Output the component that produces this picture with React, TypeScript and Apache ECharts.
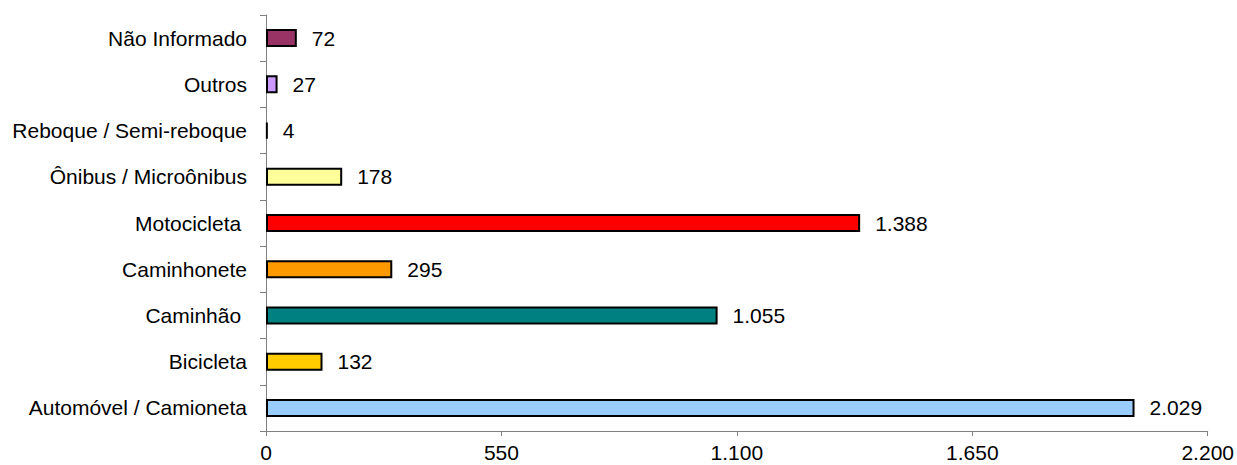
import React, { useEffect, useRef } from "react";
import * as echarts from "echarts";

const categories = [
  "Automóvel / Camioneta",
  "Bicicleta",
  "Caminhão ",
  "Caminhonete",
  "Motocicleta ",
  "Ônibus / Microônibus",
  "Reboque / Semi-reboque",
  "Outros",
  "Não Informado",
];
const values = [2029, 132, 1055, 295, 1388, 178, 4, 27, 72];
const colors = [
  "#99CCFF",
  "#FFCC00",
  "#008080",
  "#FF9900",
  "#FF0000",
  "#FFFF99",
  "#000000",
  "#CC99FF",
  "#993366",
];
const xMin = 0;
const xMax = 2200;
const xInterval = 550;

const fmt = (v: number) =>
  String(Math.round(v)).replace(/\B(?=(\d{3})+(?!\d))/g, ".");

export default function App() {
  const ref = useRef<HTMLDivElement>(null);
  useEffect(() => {
    if (!ref.current) return;
    const chart = echarts.init(ref.current, undefined, { renderer: "svg" });
    const font = "'Liberation Sans', Arial, sans-serif";
    chart.setOption({
      animation: false,
      backgroundColor: "#ffffff",
      grid: { left: 266, right: 28, top: 15, bottom: 34, containLabel: false },
      xAxis: {
        type: "value",
        min: xMin,
        max: xMax,
        interval: xInterval,
        splitLine: { show: false },
        axisLine: { show: true, lineStyle: { color: "#808080", width: 1 } },
        axisTick: { show: true, length: 5, lineStyle: { color: "#808080" } },
        axisLabel: {
          color: "#000",
          fontSize: 21,
          fontFamily: font,
          margin: 11,
          formatter: (v: number) => fmt(v),
        },
      },
      yAxis: {
        type: "category",
        data: categories,
        axisLine: { show: true, lineStyle: { color: "#808080", width: 1 } },
        axisTick: { show: true, length: 6, alignWithLabel: false, lineStyle: { color: "#808080" } },
        axisLabel: { color: "#000", fontSize: 21, fontFamily: font, margin: 19 },
        splitLine: { show: false },
      },
      series: [
        {
          type: "bar",
          barWidth: 18,
          data: values.map((v, i) => ({
            value: v,
            itemStyle: { color: colors[i], borderColor: "#000", borderWidth: 2 },
          })),
          label: {
            show: true,
            position: "right",
            distance: 15,
            color: "#000",
            fontSize: 21,
            fontFamily: font,
            formatter: (p: any) => fmt(p.value),
          },
        },
      ],
    });
    return () => chart.dispose();
  }, []);
  return (
    <div
      ref={ref}
      style={{ position: "fixed", left: 0, top: 0, width: 1237, height: 465 }}
    />
  );
}
